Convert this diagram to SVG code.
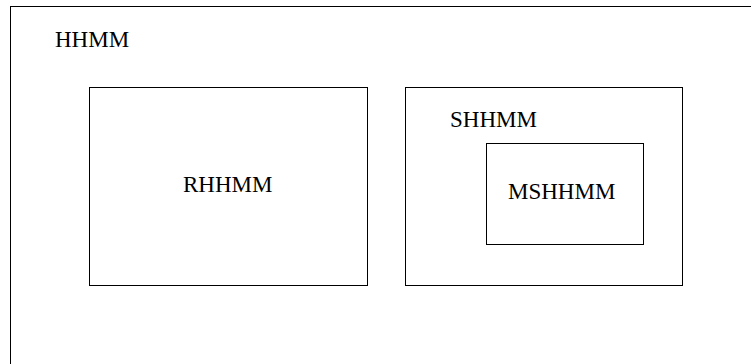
<svg xmlns="http://www.w3.org/2000/svg" width="751" height="364" viewBox="0 0 751 364">
  <style>
    .box { fill: none; stroke: #000; stroke-width: 1; }
    .label { font-family: "Liberation Serif", "Times New Roman", serif; font-size: 23px; fill: #000; }
  </style>
  <rect width="751" height="364" fill="#fff"/>
  <!-- outer model: frame runs past the right and bottom edges -->
  <g id="hhmm">
    <rect class="box" x="10.5" y="6.5" width="760" height="380"/>
    <text class="label" x="55" y="47">HHMM</text>
  </g>
  <g id="rhhmm">
    <rect class="box" x="89.5" y="87.5" width="278" height="198"/>
    <text class="label" x="183" y="192">RHHMM</text>
  </g>
  <g id="shhmm">
    <rect class="box" x="405.5" y="87.5" width="277" height="198"/>
    <text class="label" x="450" y="127">SHHMM</text>
  </g>
  <g id="mshhmm">
    <rect class="box" x="486.5" y="143.5" width="157" height="101"/>
    <text class="label" x="508" y="199">MSHHMM</text>
  </g>
  <g id="connectors"/>
</svg>
